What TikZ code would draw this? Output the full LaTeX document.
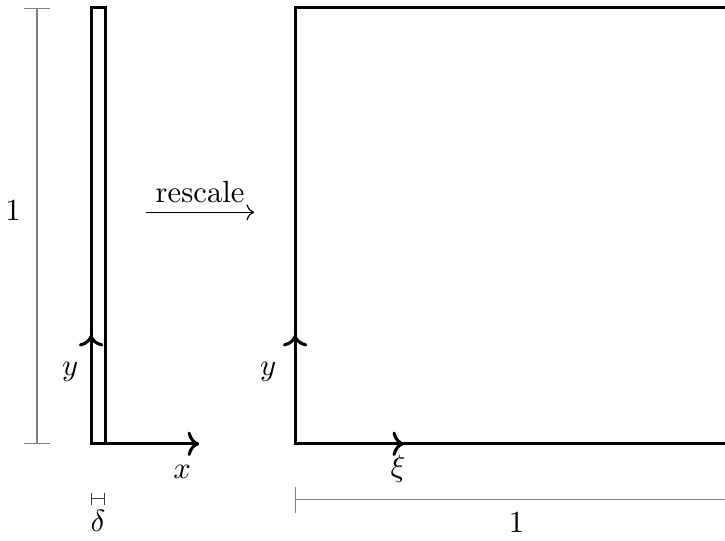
\documentclass[tikz,border=0pt]{standalone}
\usetikzlibrary{arrows.meta,positioning,calc}
\begin{document}
\begin{tikzpicture}[
  x=5cm, y=5cm,
  >=To,
  wall/.style={line width=1pt},
  axis/.style={->, line width=1pt},
  dim/.style={gray, {Bar[width=8.5pt]}-{Bar[width=8.5pt]}},
  smalldim/.style={black!75, {Bar[width=4pt]}-{Bar[width=4pt]}},
  lbl/.style={inner sep=1pt}
]
\clip (-0.209,-0.222) rectangle (1.454,1.018);

% thin strip of width delta
\coordinate (o) at (0,0);
\coordinate (strip ne) at (0.032,1);
\draw[wall] (o) rectangle (strip ne);
\coordinate (strip se) at (0.032,0);
\coordinate (ytip) at (0,0.25);
\coordinate (xtip) at (0.248,0);
\draw[axis] (o) -- (ytip);
\draw[axis] (strip se) -- (xtip);
\node[lbl] (ylab) at (-0.048,0.165) {$y$};
\node[lbl] (xlab) at (0.209,-0.064) {$x$};

% height of the strip
\coordinate (h top) at (-0.124,1);
\coordinate (h bot) at (-0.124,0);
\draw[dim] (h bot) -- (h top);
\node[lbl] (hlab) at (-0.179,0.534) {$1$};

% width delta
\coordinate (d left) at (0,-0.126);
\coordinate (d right) at (0.032,-0.126);
\draw[smalldim] (d left) -- (d right);
\node[lbl] (dlab) at (0.016,-0.176) {$\delta$};

% rescale
\coordinate (r from) at (0.126,0.531);
\coordinate (r to) at (0.374,0.531);
\draw[->] (r from) -- (r to);
\node[lbl, above=2pt of $(r from)!0.5!(r to)$] (rlab) {rescale};

% unit square
\coordinate (p) at (0.468,0);
\coordinate (sq ne) at (1.468,1);
\draw[wall] (p) rectangle (sq ne);
\coordinate (etatip) at (0.468,0.25);
\coordinate (xitip) at (0.718,0);
\draw[axis] (p) -- (etatip);
\draw[axis] (p) -- (xitip);
\node[lbl] (ylab2) at (0.406,0.165) {$y$};
\node[lbl] (xilab) at (0.704,-0.058) {$\xi$};

% width of the square
\coordinate (w left) at (0.468,-0.128);
\coordinate (w right) at (1.468,-0.128);
\draw[dim] (w left) -- (w right);
\node[lbl] (wlab) at (0.976,-0.181) {$1$};
\end{tikzpicture}
\end{document}
